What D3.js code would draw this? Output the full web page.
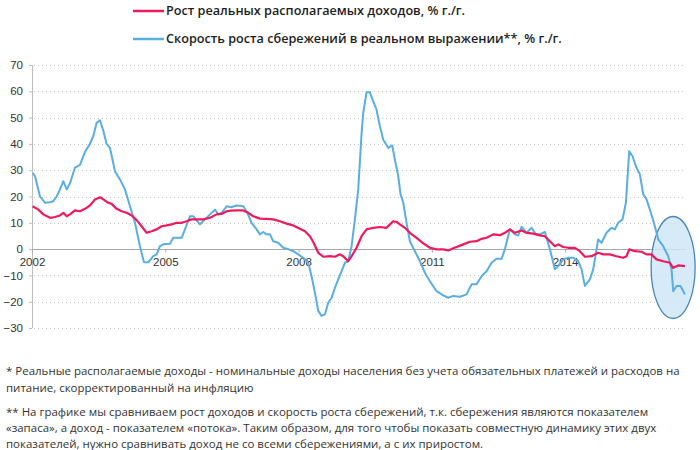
<!DOCTYPE html>
<html>
<head>
<meta charset="utf-8">
<script src="https://cdn.jsdelivr.net/npm/d3@7"></script>
<style>
  html, body { margin: 0; padding: 0; background: #fff; }
  svg { display: block; }
</style>
</head>
<body>
<svg id="chart" width="700" height="450"></svg>
<script>
// ---------- DATA ----------
const legendLabels = [
  "Рост реальных располагаемых доходов, % г./г.",
  "Скорость роста сбережений в реальном выражении**, % г./г."
];
const yTicks = [70, 60, 50, 40, 30, 20, 10, 0, -10, -20, -30];
const xTickYears = [2002, 2005, 2008, 2011, 2014];
const xTickLabels = ["2002", "2005", "2008", "2011", "2014"];

// Real disposable income growth (red)
const incomeYears = [2002.015,2002.143,2002.255,2002.405,2002.518,2002.63,2002.705,2002.78,2002.855,2002.968,
  2003.08,2003.193,2003.305,2003.418,2003.53,2003.605,2003.718,2003.793,2003.905,2004.018,2004.13,2004.243,
  2004.356,2004.468,2004.58,2004.693,2004.806,2004.918,2005.031,2005.143,2005.256,2005.368,2005.481,2005.593,
  2005.706,2005.856,2006.006,2006.156,2006.269,2006.381,2006.48,2006.605,2006.755,2006.868,2006.98,2007.13,
  2007.28,2007.43,2007.58,2007.73,2007.88,2008.03,2008.143,2008.255,2008.33,2008.443,2008.555,2008.705,
  2008.818,2008.93,2009.005,2009.118,2009.193,2009.305,2009.418,2009.53,2009.68,2009.83,2009.98,2010.056,
  2010.131,2010.206,2010.281,2010.393,2010.506,2010.656,2010.806,2010.956,2011.106,2011.256,2011.369,2011.48,
  2011.556,2011.706,2011.856,2012.006,2012.119,2012.231,2012.381,2012.531,2012.644,2012.756,2012.869,2013.019,
  2013.131,2013.281,2013.431,2013.544,2013.656,2013.769,2013.844,2013.956,2014.069,2014.219,2014.331,2014.444,
  2014.594,2014.744,2014.856,2015.006,2015.156,2015.307,2015.382,2015.442,2015.569,2015.719,2015.832,2015.944,
  2016.057,2016.207,2016.357,2016.432,2016.544,2016.695];
const incomeValues = [16.3,15.0,13.2,11.9,12.2,12.8,13.8,12.5,13.2,14.7,
  14.4,15.3,16.6,18.9,19.7,18.9,17.6,17.2,15.3,14.4,13.8,12.8,
  11.0,8.7,6.2,6.8,7.5,8.7,9.0,9.4,10.0,10.0,10.6,11.3,
  11.3,11.3,11.9,13.2,13.4,14.4,14.6,14.7,14.7,13.8,12.5,11.6,
  11.5,11.3,10.6,9.7,9.0,7.7,6.8,4.9,2.7,-1.4,-2.9,-2.7,
  -2.9,-2.0,-2.7,-4.6,-2.7,0.5,4.9,7.5,8.1,8.4,8.1,9.4,
  10.6,10.3,9.4,8.1,6.2,4.3,2.2,0.5,-0.1,-0.1,-0.5,0.3,
  0.8,1.8,2.8,3.0,3.9,4.3,5.6,5.3,6.2,7.5,6.2,7.1,
  6.2,5.9,5.2,4.9,3.0,1.1,1.8,0.8,0.5,0.5,-0.8,-2.9,
  -2.7,-1.4,-2.0,-2.0,-2.7,-3.3,-2.7,-0.1,-0.8,-1.0,-2.0,-2.0,
  -3.9,-4.6,-5.2,-7.1,-6.2,-6.5];

// Savings growth in real terms (blue)
const savingsYears = [2002.015,2002.068,2002.18,2002.293,2002.405,2002.48,2002.555,2002.63,2002.705,2002.78,
  2002.855,2002.968,2003.08,2003.193,2003.305,2003.38,2003.455,2003.53,2003.605,2003.68,2003.755,2003.868,
  2003.98,2004.093,2004.205,2004.318,2004.43,2004.52,2004.618,2004.73,2004.806,2004.88,2004.956,2005.106,
  2005.18,2005.368,2005.443,2005.556,2005.63,2005.78,2005.893,2006.006,2006.119,2006.194,2006.269,2006.381,
  2006.48,2006.605,2006.755,2006.83,2006.943,2007.055,2007.13,2007.205,2007.28,2007.355,2007.43,2007.543,
  2007.655,2007.768,2007.88,2007.993,2008.105,2008.218,2008.293,2008.368,2008.443,2008.518,2008.593,2008.668,
  2008.743,2008.818,2008.893,2008.968,2009.043,2009.118,2009.193,2009.268,2009.343,2009.418,2009.455,2009.53,
  2009.605,2009.68,2009.755,2009.83,2009.906,2010.018,2010.108,2010.168,2010.243,2010.296,2010.356,2010.431,
  2010.506,2010.618,2010.731,2010.843,2010.956,2011.106,2011.256,2011.369,2011.48,2011.631,2011.781,2011.894,
  2012.006,2012.119,2012.231,2012.344,2012.456,2012.569,2012.644,2012.756,2012.869,2012.944,2013.019,2013.131,
  2013.244,2013.341,2013.431,2013.544,2013.656,2013.769,2013.844,2013.956,2014.069,2014.181,2014.294,2014.369,
  2014.444,2014.556,2014.631,2014.744,2014.819,2014.931,2015.044,2015.119,2015.194,2015.292,2015.367,2015.442,
  2015.517,2015.592,2015.682,2015.757,2015.832,2015.907,2015.997,2016.095,2016.207,2016.32,2016.395,2016.432,
  2016.507,2016.597,2016.695];
const savingsValues = [29.0,27.7,20.0,17.6,17.8,18.2,20.0,22.7,25.8,22.7,
  25.0,31.0,32.0,37.0,40.0,43.0,48.0,49.0,45.0,40.0,38.5,29.6,
  26.5,22.7,16.3,10.0,1.0,-5.0,-5.0,-2.7,-2.0,1.1,1.8,2.0,
  4.3,4.3,7.5,12.5,12.5,9.4,11.3,13.2,15.0,13.2,13.8,16.3,
  15.9,16.6,16.3,14.4,10.0,7.5,5.6,6.5,5.6,5.6,3.0,2.4,
  0.5,0.0,-0.8,-2.0,-3.3,-5.2,-10.3,-16.6,-23.5,-25.4,-24.8,-20.4,
  -18.5,-14.7,-11.5,-8.4,-5.2,-4.6,1.1,11.3,22.7,44.0,51.8,59.6,
  59.6,56.2,53.0,46.7,41.6,38.5,39.4,34.0,27.7,20.8,17.6,10.0,
  3.0,-0.8,-4.6,-9.0,-12.2,-16.0,-17.6,-18.5,-17.8,-18.1,-17.2,-13.4,
  -13.4,-10.3,-8.4,-5.2,-3.7,-3.7,0.0,7.5,5.6,5.2,8.5,6.2,
  8.1,5.6,5.6,6.5,0.0,-7.7,-6.5,-3.9,-3.3,-3.3,-4.6,-7.7,
  -14.0,-11.5,-7.7,3.7,2.4,6.2,8.1,7.5,10.0,11.3,17.6,37.2,
  35.3,31.5,28.4,20.8,18.9,15.0,10.0,3.7,1.1,-2.7,-7.7,-16.0,
  -14.0,-14.0,-17.2];

const footnotes = [
  "* Реальные располагаемые доходы - номинальные доходы населения без учета обязательных платежей и расходов на",
  "питание, скорректированный на инфляцию",
  "** На графике мы сравниваем рост доходов и скорость роста сбережений, т.к. сбережения являются показателем",
  "«запаса», а доход - показателем «потока». Таким образом, для того чтобы показать совместную динамику этих двух",
  "показателей, нужно сравнивать доход не со всеми сбережениями, а с их приростом."
];

// ---------- LAYOUT ----------
const svg = d3.select("#chart");
const RED = "#ef1a5c", BLUE = "#5aaee0";
const x = d3.scaleLinear().domain([2002, 2016.72]).range([32, 686]);
const y = d3.scaleLinear().domain([-30, 70]).range([328, 65]);

// gridlines
svg.append("g").selectAll("line").data(yTicks.filter(d => d !== 0)).join("line")
  .attr("x1", 34).attr("x2", 686)
  .attr("y1", d => Math.round(y(d)) + 0.5).attr("y2", d => Math.round(y(d)) + 0.5)
  .attr("stroke", "#c9c4bb").attr("stroke-width", 1).attr("stroke-dasharray", "1,3");

// y axis
const yAxis = d3.axisLeft(y).tickValues(yTicks).tickSize(3).tickPadding(6).tickFormat(d3.format("d"));
const gy = svg.append("g").attr("transform", "translate(32,0)").call(yAxis);
gy.select(".domain").attr("stroke", "#bdbdbd").attr("d", `M0.5,${y(70)}V${y(-30)}`);
gy.selectAll(".tick line").attr("stroke", "#bdbdbd");
gy.selectAll(".tick text").attr("fill", "#333").style("font-family", "'Liberation Sans', Arial, sans-serif").style("font-size", "11.5px");

// x axis at zero
const xAxis = d3.axisBottom(x).tickValues(xTickYears).tickSize(3).tickPadding(5)
  .tickFormat((d, i) => xTickLabels[i]);
const gx = svg.append("g").attr("transform", `translate(0,${Math.round(y(0)) + 0.5})`).call(xAxis);
gx.select(".domain").attr("stroke", "#a8a8a8").attr("d", `M32,0H686`);
gx.selectAll(".tick line").attr("stroke", "#a8a8a8");
gx.selectAll(".tick text").attr("fill", "#333").style("font-family", "'Liberation Sans', Arial, sans-serif").style("font-size", "11.5px");

// highlight ellipse (annotation)
svg.append("ellipse")
  .attr("cx", x(2016.43)).attr("cy", y(-7)).attr("rx", 22).attr("ry", 51)
  .attr("fill", "#cfe6f7").attr("fill-opacity", 0.85)
  .attr("stroke", "#4a86b8").attr("stroke-width", 1.3);

// lines
const line = d3.line().x(d => x(d[0])).y(d => y(d[1]));
svg.append("path").datum(d3.zip(savingsYears, savingsValues))
  .attr("d", line).attr("fill", "none").attr("stroke", BLUE).attr("stroke-width", 2).attr("stroke-linejoin", "round");
svg.append("path").datum(d3.zip(incomeYears, incomeValues))
  .attr("d", line).attr("fill", "none").attr("stroke", RED).attr("stroke-width", 2.2).attr("stroke-linejoin", "round");

// legend
const legendColors = [RED, BLUE];
const legendY = [11, 39];
const lg = svg.append("g");
legendLabels.forEach((lab, i) => {
  lg.append("line").attr("x1", 133).attr("x2", 164).attr("y1", legendY[i]).attr("y2", legendY[i])
    .attr("stroke", legendColors[i]).attr("stroke-width", 2.5);
});
const legendTexts = lg.selectAll("text").data(legendLabels).join("text")
  .attr("x", 166).attr("y", (d, i) => legendY[i]).attr("dy", "0.35em")
  .attr("fill", "#1e1e1e")
  .style("font-family", "'Open Sans', 'Noto Sans', sans-serif").style("font-weight", 600).style("font-size", "13px")
  .text(d => d);
// fit legend font so the long line spans its original width
{
  const w = legendTexts.nodes()[1].getComputedTextLength();
  const fs = 13 * 396 / w;
  legendTexts.style("font-size", fs + "px");
}

// footnotes
const fnY = [371, 388, 412, 428, 444];
const fn = svg.append("g").selectAll("text").data(footnotes).join("text")
  .attr("x", 6).attr("y", (d, i) => fnY[i]).attr("dy", "0.35em")
  .attr("fill", "#333")
  .style("font-family", "'Open Sans', 'Noto Sans', sans-serif").style("font-size", "12px")
  .text(d => d);
{
  const w = fn.nodes()[0].getComputedTextLength();
  const fs = 12 * 674 / w;
  fn.style("font-size", fs + "px");
}
</script>
</body>
</html>
